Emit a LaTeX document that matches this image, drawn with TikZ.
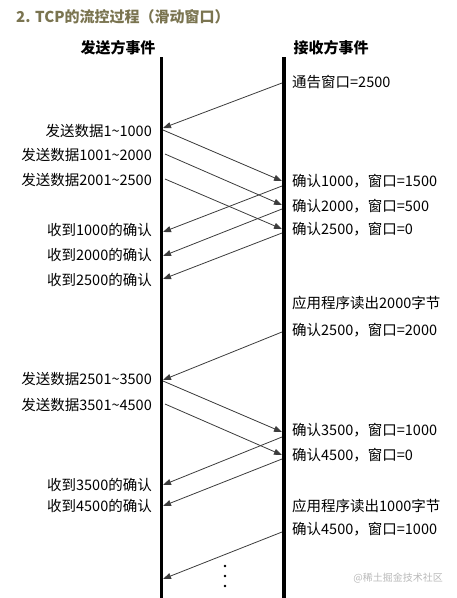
\documentclass[tikz,border=0pt]{standalone}
\usepackage{fontspec}
\setmainfont{Noto Sans CJK SC}
\usetikzlibrary{arrows.meta}
\definecolor{titleolive}{RGB}{122, 116, 80}
\definecolor{msggray}{RGB}{60, 60, 60}
\definecolor{markgray}{RGB}{185, 185, 185}

\begin{document}
\begin{tikzpicture}[x=1pt, y=-1pt, >={Triangle[length=8pt, width=6pt]},
    lbl/.style={font=\fontsize{14.5}{15}\selectfont, inner sep=0pt},
    msg/.style={->, msggray, line width=0.8pt}]
    \useasboundingbox (0,0) rectangle (457,598);
    % title and the two lifelines
    \node[anchor=west, inner sep=0pt, titleolive, font=\fontsize{15}{16}\selectfont\bfseries] (title) at (16,17) {2. TCP的流控过程（滑动窗口）};
    \node[inner sep=0pt, font=\fontsize{15}{16}\selectfont\bfseries] (sender) at (118,48) {发送方事件};
    \node[inner sep=0pt, font=\fontsize{15}{16}\selectfont\bfseries] (receiver) at (331,48) {接收方事件};
    \coordinate (stop) at (161.5,57);
    \coordinate (sbot) at (161.5,598);
    \coordinate (rtop) at (284,57);
    \coordinate (rbot) at (284,598);
    \draw[line width=3.5pt] (stop) -- (sbot);
    \draw[line width=3.5pt] (rtop) -- (rbot);

    % sender side labels
    \node[lbl, anchor=east] (d1) at (152,131) {发送数据1\textasciitilde1000};
    \node[lbl, anchor=east] (d2) at (152,155) {发送数据1001\textasciitilde2000};
    \node[lbl, anchor=east] (d3) at (152,180) {发送数据2001\textasciitilde2500};
    \node[lbl, anchor=east] (a1) at (152,230) {收到1000的确认};
    \node[lbl, anchor=east] (a2) at (152,255) {收到2000的确认};
    \node[lbl, anchor=east] (a3) at (152,280) {收到2500的确认};
    \node[lbl, anchor=east] (d4) at (152,379) {发送数据2501\textasciitilde3500};
    \node[lbl, anchor=east] (d5) at (152,405) {发送数据3501\textasciitilde4500};
    \node[lbl, anchor=east] (a4) at (152,485) {收到3500的确认};
    \node[lbl, anchor=east] (a5) at (152,506) {收到4500的确认};

    % receiver side labels
    \node[lbl, anchor=west] (w0) at (292,82) {通告窗口=2500};
    \node[lbl, anchor=west] (k1) at (292,181) {确认1000，窗口=1500};
    \node[lbl, anchor=west] (k2) at (292,206) {确认2000，窗口=500};
    \node[lbl, anchor=west] (k3) at (292,229) {确认2500，窗口=0};
    \node[lbl, anchor=west] (rd1) at (292,303) {应用程序读出2000字节};
    \node[lbl, anchor=west] (k4) at (292,330) {确认2500，窗口=2000};
    \node[lbl, anchor=west] (k5) at (292,430) {确认3500，窗口=1000};
    \node[lbl, anchor=west] (k6) at (292,455) {确认4500，窗口=0};
    \node[lbl, anchor=west] (rd2) at (292,506) {应用程序读出1000字节};
    \node[lbl, anchor=west] (k7) at (292,529) {确认4500，窗口=1000};

    % message end points on the lifelines
    \coordinate (r0) at (282,83);
    \coordinate (s0) at (163,128);
    \coordinate (s1) at (163,130);
    \coordinate (r1) at (282,181);
    \coordinate (s2) at (165,154);
    \coordinate (r2) at (282,205);
    \coordinate (s3) at (165,179);
    \coordinate (r3) at (282,229);
    \coordinate (r1a) at (282,186);
    \coordinate (s1a) at (163,232);
    \coordinate (r2a) at (282,209);
    \coordinate (s2a) at (163,256);
    \coordinate (r3a) at (282,233);
    \coordinate (s3a) at (163,279);
    \coordinate (r4) at (282,332);
    \coordinate (s4) at (163,380);
    \coordinate (s4b) at (163,381);
    \coordinate (r5) at (282,432);
    \coordinate (s5) at (165,404);
    \coordinate (r6) at (282,455);
    \coordinate (r5a) at (282,437);
    \coordinate (s5a) at (163,485);
    \coordinate (r6a) at (282,459);
    \coordinate (s6a) at (163,506);
    \coordinate (r7) at (282,532);
    \coordinate (s7) at (163,579);

    \draw[msg] (r0) -- (s0);
    \draw[msg] (s1) -- (r1);
    \draw[msg] (s2) -- (r2);
    \draw[msg] (s3) -- (r3);
    \draw[msg] (r1a) -- (s1a);
    \draw[msg] (r2a) -- (s2a);
    \draw[msg] (r3a) -- (s3a);
    \draw[msg] (r4) -- (s4);
    \draw[msg] (s4b) -- (r5);
    \draw[msg] (s5) -- (r6);
    \draw[msg] (r5a) -- (s5a);
    \draw[msg] (r6a) -- (s6a);
    \draw[msg] (r7) -- (s7);

    % more to come
    \fill (225,566) circle (1.4);
    \fill (225,576) circle (1.4);
    \fill (225,586) circle (1.4);
    \node[anchor=east, inner sep=0pt, markgray, font=\fontsize{10}{11}\selectfont] (mark) at (443,578) {@稀土掘金技术社区};
\end{tikzpicture}
\end{document}
